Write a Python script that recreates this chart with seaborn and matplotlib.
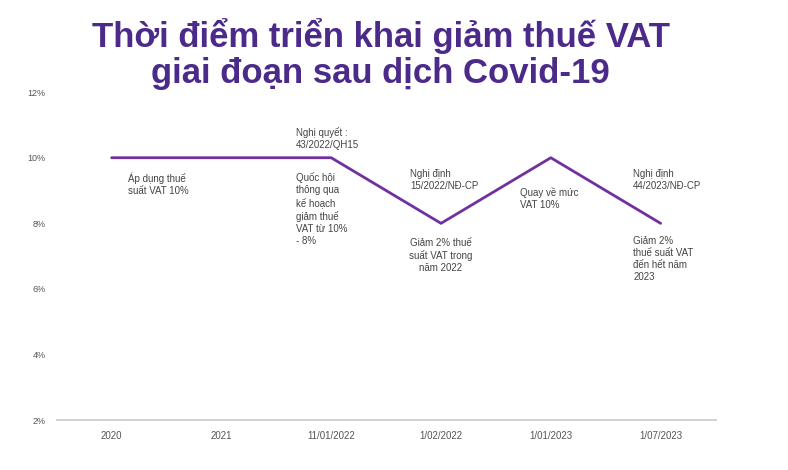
import matplotlib
matplotlib.use("Agg")
import matplotlib.pyplot as plt
import seaborn as sns
import pandas as pd

categories = ["2020", "2021", "11/01/2022", "1/02/2022", "1/01/2023", "1/07/2023"]
vat_rate = [10, 10, 10, 8, 10, 8]
y_ticks = [2, 4, 6, 8, 10, 12]
notes = [
    (0.15, 9.55, "Áp dụng thuế\nsuất VAT 10%", "left", "top"),
    (1.68, 9.55, "Quốc hội\nthông qua\nkế hoạch\ngiảm thuế\nVAT từ 10%\n- 8%", "left", "top"),
    (1.68, 10.25, "Nghị quyết :\n43/2022/QH15", "left", "bottom"),
    (2.72, 9.0, "Nghị định\n15/2022/NĐ-CP", "left", "bottom"),
    (3.0, 7.55, "Giảm 2% thuế\nsuất VAT trong\nnăm 2022", "center", "top"),
    (3.72, 9.1, "Quay về mức\nVAT 10%", "left", "top"),
    (4.75, 9.0, "Nghị định\n44/2023/NĐ-CP", "left", "bottom"),
    (4.75, 7.6, "Giảm 2%\nthuế suất VAT\nđến hết năm\n2023", "left", "top"),
]

sns.set_theme(style="white")
plt.rcParams["font.family"] = ["Liberation Sans", "DejaVu Sans"]
fig = plt.figure(figsize=(7.88, 4.70), dpi=100)
ax = fig.add_axes([0.072, 0.106, 0.836, 0.698])
df = pd.DataFrame({"x": range(len(categories)), "y": vat_rate})
sns.lineplot(data=df, x="x", y="y", ax=ax, color="#7030a0", linewidth=2)
ax.set_xlim(-0.5, 5.5)
ax.set_ylim(2, 12)
ax.set_xticks(range(len(categories)))
ax.set_xticklabels(categories, fontsize=7, color="#555555")
ax.set_yticks(y_ticks)
ax.set_yticklabels([f"{v}%" for v in y_ticks], fontsize=6.5, color="#555555")
ax.set_xlabel("")
ax.set_ylabel("")
for s in ["top", "right", "left"]:
    ax.spines[s].set_visible(False)
ax.spines["bottom"].set_color("#cccccc")
ax.tick_params(axis="both", length=0, pad=8)
for x, y, t, ha, va in notes:
    ax.text(x, y, t, fontsize=7, color="#444444", ha=ha, va=va, linespacing=1.25)
fig.text(0.483, 1 - 18 / 470, "Thời điểm triển khai giảm thuế VAT\ngiai đoạn sau dịch Covid-19",
         ha="center", va="top", fontsize=25, fontweight="bold", color="#4b2a8a",
         linespacing=1.1)
fig.savefig("out.png", dpi=100)
